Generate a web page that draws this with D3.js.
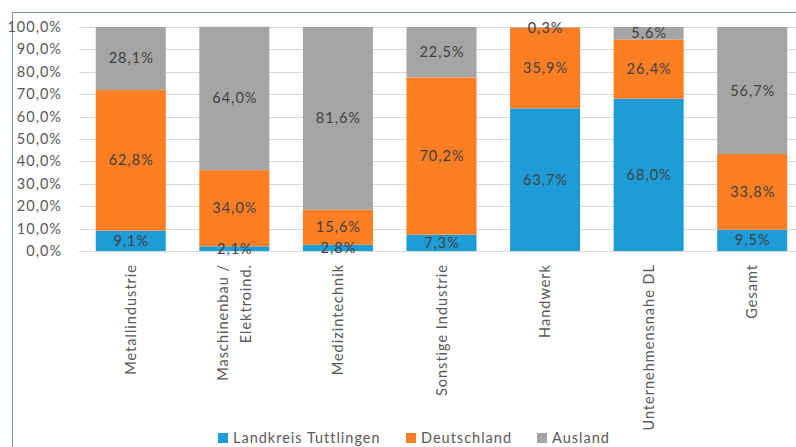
<!DOCTYPE html>
<html>
<head>
<meta charset="utf-8">
<script src="https://cdn.jsdelivr.net/npm/d3@7"></script>
<style>
  body { margin: 0; background: #fff; }
  text { font-family: Lato, "Open Sans", sans-serif; letter-spacing: 1px; }
</style>
</head>
<body>
<div id="chart"></div>
<script>
// Categories and the three stacked series (percent)
var categories = ['Metallindustrie', 'Maschinenbau / Elektroind.', 'Medizintechnik',
  'Sonstige Industrie', 'Handwerk', 'Unternehmensnahe DL', 'Gesamt'];
var categoryLines = [['Metallindustrie'], ['Maschinenbau  /', 'Elektroind.'], ['Medizintechnik'],
  ['Sonstige Industrie'], ['Handwerk'], ['Unternehmensnahe DL'], ['Gesamt']];
var landkreis = [9.1, 2.1, 2.8, 7.3, 63.7, 68.0, 9.5];
var deutschland = [62.8, 34.0, 15.6, 70.2, 35.9, 26.4, 33.8];
var ausland = [28.1, 64.0, 81.6, 22.5, 0.3, 5.6, 56.7];
var seriesNames = ['Landkreis Tuttlingen', 'Deutschland', 'Ausland'];
var yTicks = [0, 10, 20, 30, 40, 50, 60, 70, 80, 90, 100];

function createChart() {
  var width = 796, height = 447;
  var svg = d3.select('#chart').append('svg')
    .attr('width', width)
    .attr('height', height);

  // Chart frame (only left and top are inside the crop)
  svg.append('line').attr('x1', 12.5).attr('x2', 12.5).attr('y1', 12.5).attr('y2', height)
    .style('stroke', '#8496B0').style('stroke-width', 1);
  svg.append('line').attr('x1', 12.5).attr('x2', width).attr('y1', 12.5).attr('y2', 12.5)
    .style('stroke', '#8496B0').style('stroke-width', 1);

  return svg;
}

function fmtPct(v) {
  return d3.format('.1f')(v).replace('.', ',') + '%';
}

function renderChart(svg) {
  var colour = d3.scaleOrdinal().domain(seriesNames).range(['#1E9CD7', '#FD7E23', '#A5A5A5']);

  var x = d3.scaleBand().domain(categories).range([79, 804]).paddingInner(0.324).paddingOuter(0.162);
  var y = d3.scaleLinear().domain([0, 100]).range([251, 27]);

  // Gridlines
  svg.append('g').selectAll('line')
    .data(yTicks)
    .enter().append('line')
    .attr('x1', 79).attr('x2', 796)
    .attr('y1', d => Math.round(y(d)) + 0.5)
    .attr('y2', d => Math.round(y(d)) + 0.5)
    .style('stroke', '#D9D9D9').style('stroke-width', 1);

  // Y tick labels
  svg.append('g').selectAll('text')
    .data(yTicks)
    .enter().append('text')
    .attr('x', 62)
    .attr('y', d => y(d) + 5)
    .attr('text-anchor', 'end')
    .style('font-size', '14.5px')
    .style('fill', '#595959')
    .text(fmtPct);

  var rows = categories.map((c, i) => ({
    cat: c,
    'Landkreis Tuttlingen': landkreis[i],
    'Deutschland': deutschland[i],
    'Ausland': ausland[i]
  }));

  var stacked = d3.stack().keys(seriesNames)(rows);

  var layers = svg.append('g').selectAll('g.layer')
    .data(stacked)
    .enter().append('g')
    .attr('class', 'layer')
    .style('fill', d => colour(d.key));

  layers.selectAll('rect')
    .data(d => d)
    .enter().append('rect')
    .attr('x', d => x(d.data.cat))
    .attr('width', x.bandwidth())
    .attr('y', d => y(d[1]))
    .attr('height', d => y(d[0]) - y(d[1]));

  // Data labels, centred in each segment
  var labels = svg.append('g');
  stacked.forEach(layer => {
    layer.forEach(d => {
      labels.append('text')
        .attr('x', x(d.data.cat) + x.bandwidth() / 2 + 0.5)
        .attr('y', (y(d[0]) + y(d[1])) / 2 + 5)
        .attr('text-anchor', 'middle')
        .style('font-size', '14.5px')
        .style('fill', '#404040')
        .text(fmtPct(d[1] - d[0]));
    });
  });

  // Category labels, rotated
  var catG = svg.append('g').selectAll('g')
    .data(categories)
    .enter().append('g')
    .attr('transform', d => 'translate(' + (x(d) + x.bandwidth() / 2) + ',264) rotate(-90)');

  catG.each(function(d, i) {
    var lines = categoryLines[i];
    var offset = -(lines.length - 1) * 11.5;
    lines.forEach((ln, j) => {
      d3.select(this).append('text')
        .attr('x', 0)
        .attr('y', offset + j * 23 + 5)
        .attr('text-anchor', 'end')
        .style('font-size', '14.5px')
        .style('fill', '#595959')
        .text(ln);
    });
  });

  // Legend
  var legendX = [218, 406, 537];
  var legend = svg.append('g').selectAll('g')
    .data(seriesNames)
    .enter().append('g')
    .attr('transform', (d, i) => 'translate(' + legendX[i] + ',433)');

  legend.append('rect')
    .attr('width', 10).attr('height', 10)
    .style('fill', d => colour(d));

  legend.append('text')
    .attr('x', 15).attr('y', 10)
    .style('font-size', '14.5px')
    .style('fill', '#595959')
    .text(d => d);
}

renderChart(createChart());
</script>
</body>
</html>
